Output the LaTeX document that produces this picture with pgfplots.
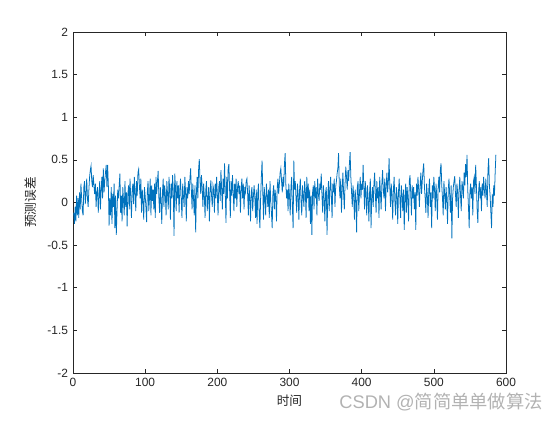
\documentclass[border=0pt]{standalone}
\usepackage{fontspec}
\setmainfont{Liberation Sans}
\newfontfamily\cjk{Noto Sans CJK SC}
\usepackage{pgfplots}
\usepackage{pgfplotstable}
\pgfplotsset{compat=1.18}
\definecolor{mblue}{rgb}{0,0.447,0.741}
\definecolor{axgray}{rgb}{0.15,0.15,0.15}

\pgfplotstableread[header=false,row sep=\\]{
-0.12\\ -0.25\\ -0.05\\ -0.22\\ 0.08\\ -0.15\\ 0.05\\ -0.18\\ 0.12\\ -0.08\\
0.22\\ 0.05\\ -0.10\\ -0.15\\ 0.18\\ 0.25\\ -0.02\\ 0.10\\ 0.28\\ 0.05\\
-0.05\\ 0.15\\ 0.30\\ 0.38\\ 0.43\\ 0.25\\ 0.18\\ 0.32\\ 0.20\\ 0.10\\
0.22\\ -0.05\\ 0.12\\ 0.18\\ -0.12\\ 0.08\\ 0.25\\ -0.08\\ 0.15\\ 0.30\\
0.05\\ 0.40\\ 0.12\\ 0.25\\ 0.35\\ 0.44\\ 0.18\\ 0.44\\ 0.20\\ -0.27\\
0.05\\ -0.15\\ 0.18\\ -0.25\\ 0.10\\ -0.05\\ 0.22\\ -0.30\\ 0.08\\ -0.38\\
-0.10\\ 0.15\\ 0.05\\ 0.20\\ 0.34\\ -0.12\\ 0.08\\ -0.22\\ 0.18\\ 0.02\\
-0.15\\ 0.25\\ -0.05\\ 0.12\\ -0.28\\ 0.10\\ 0.20\\ -0.08\\ 0.28\\ 0.05\\
-0.18\\ 0.15\\ 0.22\\ -0.02\\ 0.30\\ 0.12\\ -0.10\\ 0.25\\ 0.08\\ 0.35\\
0.39\\ 0.20\\ 0.05\\ 0.28\\ -0.12\\ 0.15\\ 0.02\\ -0.20\\ 0.18\\ 0.08\\
-0.05\\ -0.23\\ 0.12\\ 0.25\\ -0.10\\ 0.05\\ 0.28\\ -0.15\\ 0.20\\ 0.02\\
0.15\\ -0.08\\ 0.22\\ -0.18\\ 0.30\\ 0.10\\ 0.25\\ 0.37\\ 0.05\\ -0.12\\
0.18\\ 0.02\\ -0.25\\ 0.12\\ 0.28\\ -0.05\\ 0.20\\ 0.08\\ -0.15\\ 0.25\\
0.10\\ -0.08\\ 0.30\\ 0.15\\ -0.20\\ 0.22\\ 0.05\\ 0.32\\ 0.12\\ -0.39\\
0.34\\ 0.18\\ -0.10\\ 0.25\\ 0.05\\ 0.20\\ -0.12\\ 0.15\\ 0.28\\ 0.02\\
-0.18\\ 0.22\\ 0.08\\ -0.05\\ 0.30\\ 0.12\\ -0.22\\ 0.18\\ 0.05\\ 0.25\\
0.10\\ 0.28\\ 0.40\\ 0.15\\ -0.08\\ 0.22\\ 0.05\\ -0.15\\ 0.20\\ -0.35\\
0.12\\ 0.30\\ 0.05\\ 0.38\\ 0.51\\ 0.25\\ 0.10\\ 0.32\\ 0.18\\ -0.05\\
0.22\\ 0.08\\ -0.18\\ 0.15\\ 0.25\\ -0.10\\ 0.05\\ 0.18\\ -0.22\\ 0.12\\
0.26\\ 0.08\\ -0.05\\ 0.20\\ 0.15\\ -0.12\\ 0.22\\ 0.05\\ 0.30\\ 0.10\\
-0.15\\ 0.18\\ 0.25\\ 0.02\\ 0.38\\ 0.15\\ -0.08\\ 0.28\\ 0.10\\ 0.46\\
0.12\\ -0.24\\ 0.30\\ 0.05\\ 0.40\\ 0.45\\ 0.15\\ -0.18\\ 0.25\\ 0.08\\
0.32\\ 0.12\\ -0.10\\ 0.22\\ 0.05\\ 0.28\\ -0.05\\ 0.18\\ 0.25\\ 0.10\\
0.20\\ -0.12\\ 0.15\\ 0.28\\ 0.05\\ 0.22\\ -0.08\\ 0.18\\ 0.12\\ 0.25\\
0.28\\ 0.10\\ -0.15\\ 0.20\\ 0.05\\ -0.22\\ 0.12\\ 0.18\\ -0.10\\ 0.08\\
0.20\\ 0.05\\ -0.18\\ 0.15\\ -0.25\\ 0.10\\ 0.22\\ -0.12\\ -0.30\\ 0.05\\
0.30\\ 0.49\\ 0.12\\ -0.20\\ 0.18\\ 0.05\\ -0.15\\ 0.22\\ 0.08\\ -0.05\\
0.15\\ -0.18\\ 0.25\\ 0.02\\ -0.12\\ -0.30\\ 0.10\\ 0.20\\ -0.08\\ 0.15\\
0.05\\ -0.22\\ 0.18\\ 0.28\\ 0.10\\ 0.22\\ 0.35\\ 0.40\\ 0.25\\ 0.12\\
0.30\\ 0.18\\ 0.45\\ 0.58\\ 0.20\\ 0.05\\ 0.15\\ -0.10\\ 0.22\\ 0.08\\
-0.15\\ 0.18\\ 0.30\\ -0.05\\ -0.30\\ 0.49\\ 0.15\\ 0.25\\ 0.05\\ -0.12\\
0.22\\ 0.10\\ -0.20\\ 0.15\\ 0.28\\ 0.02\\ -0.15\\ 0.20\\ 0.08\\ -0.05\\
0.25\\ 0.12\\ -0.18\\ 0.30\\ 0.05\\ 0.22\\ -0.10\\ 0.15\\ -0.25\\ 0.08\\
-0.38\\ 0.12\\ 0.20\\ -0.08\\ 0.25\\ 0.05\\ 0.18\\ -0.15\\ 0.28\\ 0.10\\
0.02\\ 0.22\\ 0.15\\ 0.34\\ 0.08\\ -0.12\\ 0.20\\ 0.05\\ -0.22\\ 0.12\\
0.18\\ -0.38\\ 0.05\\ 0.25\\ -0.10\\ 0.15\\ 0.30\\ 0.08\\ -0.18\\ 0.22\\
0.12\\ 0.28\\ -0.05\\ 0.18\\ 0.25\\ 0.34\\ 0.40\\ 0.58\\ 0.20\\ 0.05\\
0.28\\ -0.12\\ 0.15\\ 0.35\\ 0.10\\ -0.08\\ 0.22\\ 0.42\\ 0.30\\ 0.15\\
0.38\\ 0.25\\ 0.45\\ 0.59\\ 0.30\\ 0.12\\ -0.05\\ 0.20\\ 0.08\\ -0.20\\
0.15\\ 0.02\\ -0.35\\ 0.18\\ 0.25\\ -0.10\\ 0.12\\ 0.30\\ 0.05\\ 0.22\\
0.15\\ 0.44\\ 0.18\\ -0.08\\ 0.25\\ 0.10\\ -0.15\\ 0.20\\ 0.05\\ -0.22\\
0.12\\ 0.28\\ -0.30\\ 0.08\\ 0.18\\ -0.05\\ 0.22\\ 0.35\\ 0.10\\ -0.12\\
0.25\\ 0.05\\ 0.18\\ -0.18\\ 0.30\\ 0.12\\ -0.08\\ 0.22\\ 0.38\\ 0.15\\
0.05\\ 0.28\\ -0.10\\ 0.20\\ 0.35\\ 0.12\\ 0.25\\ 0.52\\ 0.18\\ -0.05\\
0.22\\ 0.08\\ -0.20\\ 0.15\\ 0.30\\ 0.02\\ -0.15\\ 0.18\\ 0.10\\ -0.25\\
0.12\\ 0.28\\ 0.05\\ -0.18\\ 0.20\\ 0.08\\ -0.10\\ 0.15\\ -0.32\\ 0.05\\
0.22\\ -0.12\\ 0.18\\ 0.05\\ -0.22\\ 0.25\\ 0.32\\ 0.10\\ -0.15\\ 0.20\\
0.05\\ 0.18\\ -0.08\\ 0.12\\ -0.32\\ 0.22\\ 0.08\\ 0.30\\ 0.15\\ -0.05\\
0.20\\ 0.35\\ 0.10\\ 0.25\\ 0.38\\ 0.46\\ 0.18\\ 0.05\\ -0.12\\ 0.22\\
0.08\\ -0.18\\ 0.15\\ 0.28\\ -0.05\\ 0.12\\ -0.30\\ 0.20\\ 0.05\\ 0.30\\
0.15\\ -0.10\\ 0.22\\ 0.08\\ -0.20\\ 0.18\\ 0.30\\ 0.12\\ 0.38\\ 0.46\\
0.20\\ 0.05\\ -0.15\\ 0.25\\ 0.10\\ -0.08\\ 0.18\\ 0.02\\ -0.25\\ 0.15\\
0.28\\ 0.08\\ -0.12\\ 0.20\\ -0.42\\ 0.05\\ 0.18\\ 0.25\\ 0.31\\ 0.10\\
-0.05\\ 0.22\\ 0.12\\ -0.18\\ 0.15\\ 0.30\\ 0.08\\ -0.10\\ 0.25\\ 0.18\\
0.05\\ 0.35\\ 0.20\\ 0.45\\ 0.30\\ 0.56\\ 0.15\\ -0.05\\ -0.30\\ 0.12\\
0.22\\ 0.05\\ 0.18\\ -0.15\\ 0.25\\ 0.30\\ 0.10\\ 0.44\\ 0.20\\ -0.08\\
-0.24\\ 0.12\\ 0.25\\ 0.05\\ 0.18\\ -0.10\\ 0.22\\ 0.08\\ 0.30\\ 0.15\\
0.05\\ 0.28\\ 0.12\\ -0.05\\ 0.38\\ 0.52\\ 0.20\\ 0.08\\ -0.11\\ -0.30\\
0.10\\ -0.05\\ 0.20\\ 0.08\\ 0.35\\ 0.56\\
}\errdata

\begin{document}
\begin{tikzpicture}[x=1cm,y=1cm]
\path[use as bounding box] (0,0) rectangle (14cm,10.5cm);
\begin{axis}[
    at={(1.825cm,1.175cm)}, anchor=south west,
    scale only axis,
    width=10.825cm, height=8.525cm,
    xmin=0, xmax=600, ymin=-2, ymax=2,
    xtick={0,100,...,600},
    ytick={-2,-1.5,-1,-0.5,0,0.5,1,1.5,2},
    yticklabels={-2,-1.5,-1,-0.5,0,0.5,1,1.5,2},
    tick align=inside,
    major tick length=0.11cm,
    axis line style={axgray, line width=0.4pt},
    every tick/.style={axgray, line width=0.4pt},
    ticklabel style={font=\fontsize{8.5}{10}\selectfont, text=axgray},
    /pgf/number format/assume math mode=true,
    xlabel={\cjk 时间},
    ylabel={\cjk 预测误差},
    label style={font=\fontsize{9}{10}\selectfont, text=axgray},
    xlabel style={yshift=0.02cm},
    ylabel style={yshift=0.02cm},
]
\addplot[mblue, line width=0.55pt, mark=none] table[x expr=\coordindex+1, y index=0] {\errdata};
\end{axis}
\node[anchor=east, inner sep=0pt, text=gray!60, font=\fontsize{13}{15}\selectfont] at (13.575cm,0.45cm) {CSDN @{\cjk 简简单单做算法}};
\end{tikzpicture}
\end{document}
